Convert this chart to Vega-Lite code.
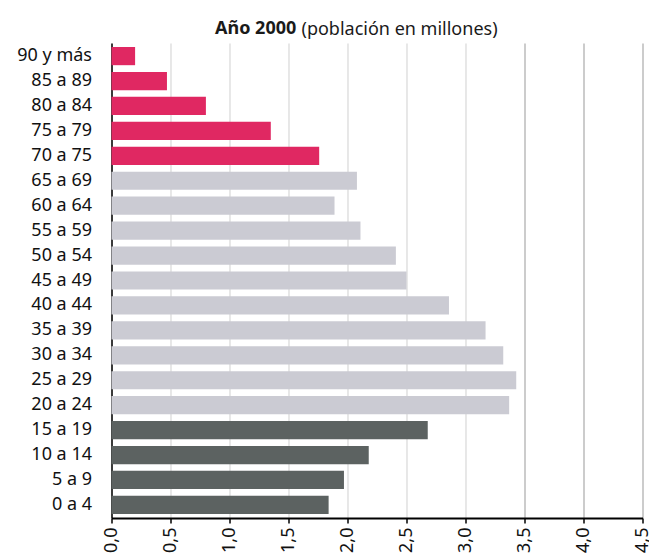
{
  "$schema": "https://vega.github.io/schema/vega-lite/v6.json",
  "autosize": {"type": "none"},
  "padding": {"left": 111.5, "top": 43, "right": 6.5, "bottom": 39},
  "width": 531,
  "height": 475,
  "background": "white",
  "title": {
    "text": "Año 2000",
    "anchor": "start",
    "frame": "group",
    "dx": 103.5,
    "dy": 22,
    "fontSize": 18,
    "fontWeight": "bold",
    "font": "Noto Sans",
    "color": "#1a1a1a"
  },
  "data": {
    "values": [
      {"edad": "90 y más", "poblacion": 0.20, "grupo": "mayores"},
      {"edad": "85 a 89", "poblacion": 0.47, "grupo": "mayores"},
      {"edad": "80 a 84", "poblacion": 0.80, "grupo": "mayores"},
      {"edad": "75 a 79", "poblacion": 1.35, "grupo": "mayores"},
      {"edad": "70 a 75", "poblacion": 1.76, "grupo": "mayores"},
      {"edad": "65 a 69", "poblacion": 2.08, "grupo": "adultos"},
      {"edad": "60 a 64", "poblacion": 1.89, "grupo": "adultos"},
      {"edad": "55 a 59", "poblacion": 2.11, "grupo": "adultos"},
      {"edad": "50 a 54", "poblacion": 2.41, "grupo": "adultos"},
      {"edad": "45 a 49", "poblacion": 2.50, "grupo": "adultos"},
      {"edad": "40 a 44", "poblacion": 2.86, "grupo": "adultos"},
      {"edad": "35 a 39", "poblacion": 3.17, "grupo": "adultos"},
      {"edad": "30 a 34", "poblacion": 3.32, "grupo": "adultos"},
      {"edad": "25 a 29", "poblacion": 3.43, "grupo": "adultos"},
      {"edad": "20 a 24", "poblacion": 3.37, "grupo": "adultos"},
      {"edad": "15 a 19", "poblacion": 2.68, "grupo": "jovenes"},
      {"edad": "10 a 14", "poblacion": 2.18, "grupo": "jovenes"},
      {"edad": "5 a 9", "poblacion": 1.97, "grupo": "jovenes"},
      {"edad": "0 a 4", "poblacion": 1.84, "grupo": "jovenes"}
    ]
  },
  "mark": {"type": "bar"},
  "encoding": {
    "y": {
      "field": "edad",
      "type": "nominal",
      "sort": null,
      "scale": {"paddingInner": 0.27, "paddingOuter": 0.16},
      "axis": {
        "title": "(población en millones)",
        "titleAngle": 0,
        "titleX": 189.5,
        "titleY": -9,
        "titleAlign": "left",
        "titleBaseline": "alphabetic",
        "titleFontWeight": "normal",
        "titleFontSize": 18,
        "titleFont": "Noto Sans",
        "titleColor": "#1a1a1a",
        "ticks": false,
        "tickSize": 0,
        "labelPadding": 20,
        "labelFont": "Noto Sans",
        "labelFontSize": 18,
        "labelColor": "#111111",
        "domainColor": "#000000",
        "domainWidth": 1.5,
        "grid": false
      }
    },
    "x": {
      "field": "poblacion",
      "type": "quantitative",
      "scale": {"domain": [0, 4.5], "nice": false},
      "axis": {
        "title": null,
        "values": [0, 0.5, 1, 1.5, 2, 2.5, 3, 3.5, 4, 4.5],
        "labelExpr": "replace(format(datum.value, '.1f'), '.', ',')",
        "labelAngle": -90,
        "labelAlign": "right",
        "labelBaseline": "middle",
        "labelPadding": 4,
        "labelFont": "Noto Sans",
        "labelFontSize": 18,
        "labelColor": "#111111",
        "labelOverlap": false,
        "labelBound": false,
        "labelFlush": false,
        "tickColor": "#000000",
        "tickWidth": 1.5,
        "tickSize": 5,
        "domainColor": "#000000",
        "domainWidth": 2,
        "grid": true,
        "gridColor": {"condition": {"test": "datum.value >= 3.5", "value": "#aaaaaa"}, "value": "#d8d8d8"},
        "gridWidth": 1.2
      }
    },
    "color": {
      "field": "grupo",
      "type": "nominal",
      "scale": {"domain": ["mayores", "adultos", "jovenes"], "range": ["#e02862", "#cbcbd3", "#5c6261"]},
      "legend": null
    }
  },
  "config": {"view": {"stroke": null}}
}
